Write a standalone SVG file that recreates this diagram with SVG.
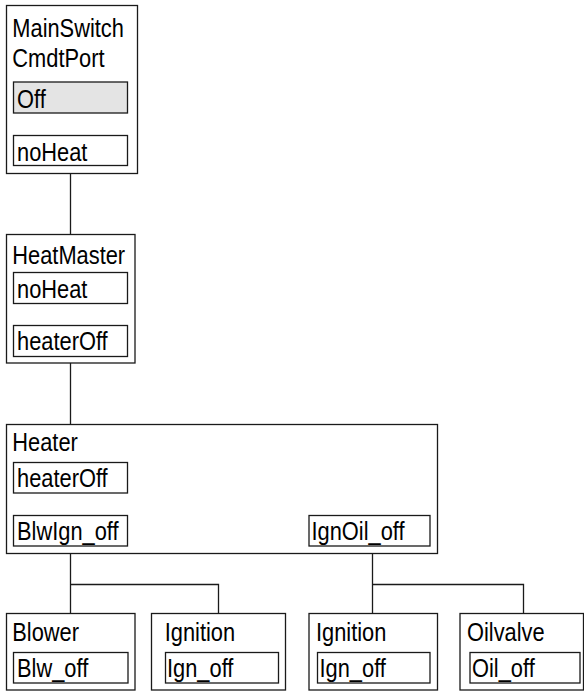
<svg xmlns="http://www.w3.org/2000/svg" width="584" height="691" viewBox="0 0 584 691">
  <style>
    .box { fill: #ffffff; stroke: #1a1a1a; stroke-width: 1.3; }
    .slot { fill: #ffffff; stroke: #1a1a1a; stroke-width: 1.3; }
    .active { fill: #e4e4e4; }
    .wire { fill: none; stroke: #1a1a1a; stroke-width: 1.3; }
    /* narrow sans: glyphs are squeezed horizontally by each label's transform */
    text { font-family: "Liberation Sans", Arial, sans-serif; font-size: 26px; fill: #000000; }
  </style>
  <rect width="584" height="691" fill="#ffffff"/>

  <!-- connectors -->
  <g id="connectors">
    <path class="wire" d="M70.5 173.5 V234.5"/>
    <path class="wire" d="M70.5 363 V424.5"/>
    <path class="wire" d="M70.5 553.5 V613.5 M70.5 584.5 H218.5 V613.5"/>
    <path class="wire" d="M372.5 553.5 V613.5 M372.5 584.5 H523.5 V613.5"/>
  </g>

  <!-- MainSwitch CmdtPort -->
  <g id="mainswitch">
    <rect class="box" x="6.5" y="5.5" width="131" height="168"/>
    <text transform="translate(12.3,36.5) scale(0.84,1)">MainSwitch</text>
    <text transform="translate(12.3,67) scale(0.84,1)">CmdtPort</text>
    <rect class="slot active" x="13.5" y="82" width="114" height="31"/>
    <text transform="translate(17,107.5) scale(0.84,1)">Off</text>
    <rect class="slot" x="13.5" y="135.5" width="114" height="30"/>
    <text transform="translate(17,160.5) scale(0.84,1)">noHeat</text>
  </g>

  <!-- HeatMaster -->
  <g id="heatmaster">
    <rect class="box" x="6.5" y="234.5" width="128.5" height="128.5"/>
    <text transform="translate(12.3,264) scale(0.84,1)">HeatMaster</text>
    <rect class="slot" x="13.5" y="272.5" width="114" height="31"/>
    <text transform="translate(17,297.5) scale(0.84,1)">noHeat</text>
    <rect class="slot" x="13.5" y="325.5" width="114" height="31"/>
    <text transform="translate(17,350) scale(0.84,1)">heaterOff</text>
  </g>

  <!-- Heater -->
  <g id="heater">
    <rect class="box" x="6.5" y="424.5" width="431" height="129"/>
    <text transform="translate(12.3,451) scale(0.84,1)">Heater</text>
    <rect class="slot" x="13.5" y="462.5" width="114" height="30.5"/>
    <text transform="translate(17,487) scale(0.84,1)">heaterOff</text>
    <rect class="slot" x="13.5" y="515.5" width="114" height="30.5"/>
    <text transform="translate(17,540) scale(0.84,1)">BlwIgn_off</text>
    <rect class="slot" x="309" y="515.5" width="121" height="30.5"/>
    <text transform="translate(311.5,540) scale(0.84,1)">IgnOil_off</text>
  </g>

  <!-- Blower -->
  <g id="blower">
    <rect class="box" x="6.5" y="613.5" width="128.5" height="76.5"/>
    <text transform="translate(12.3,640.5) scale(0.84,1)">Blower</text>
    <rect class="slot" x="13.5" y="652.5" width="114.5" height="30.5"/>
    <text transform="translate(17,677) scale(0.84,1)">Blw_off</text>
  </g>

  <!-- Ignition (blower side) -->
  <g id="ignition1">
    <rect class="box" x="151.5" y="613.5" width="134" height="76.5"/>
    <text transform="translate(164.7,640.5) scale(0.84,1)">Ignition</text>
    <rect class="slot" x="165.5" y="652.5" width="113" height="30.5"/>
    <text transform="translate(167,677) scale(0.84,1)">Ign_off</text>
  </g>

  <!-- Ignition (oil side) -->
  <g id="ignition2">
    <rect class="box" x="309" y="613.5" width="128.5" height="76.5"/>
    <text transform="translate(316,640.5) scale(0.84,1)">Ignition</text>
    <rect class="slot" x="317.5" y="652.5" width="112.5" height="30.5"/>
    <text transform="translate(319.5,677) scale(0.84,1)">Ign_off</text>
  </g>

  <!-- Oilvalve -->
  <g id="oilvalve">
    <rect class="box" x="460" y="613.5" width="123.5" height="76.5"/>
    <text transform="translate(467,640.5) scale(0.84,1)">Oilvalve</text>
    <rect class="slot" x="470" y="652.5" width="110" height="30.5"/>
    <text transform="translate(472,677) scale(0.84,1)">Oil_off</text>
  </g>
</svg>
